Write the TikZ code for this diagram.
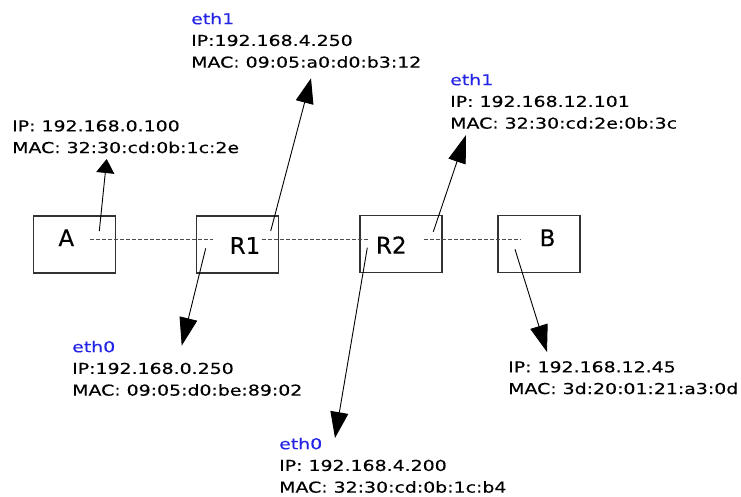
\documentclass[tikz,border=0pt]{standalone}
\usepackage{fontspec}
\setmainfont{DejaVu Sans}
\newfontfamily\addrfont[FakeStretch=1.26, FakeBold=0.35]{DejaVu Sans}
\newfontfamily\namefont[FakeBold=0.3]{DejaVu Sans}
\usetikzlibrary{arrows.meta}
\definecolor{ethblue}{RGB}{35,35,230}
\definecolor{boxgray}{RGB}{50,50,50}
\definecolor{dashgray}{RGB}{75,75,75}
\tikzset{host box/.style={
        draw=boxgray, line width=1.5pt, minimum width=82pt,
        minimum height=57pt, inner sep=0pt,
        outer sep=0pt, % corners of the frame sit on the coordinates
    },
    host name/.style={
        font=\namefont\fontsize{23}{23}\selectfont, inner sep=0pt
    },
    addr label/.style={
        anchor=north west, inner sep=0pt, align=left, text=black,
        font=\addrfont\fontsize{15}{21.7}\selectfont,
    },
    link line/.style={
        draw=dashgray, line width=1.4pt, dash pattern=on 4pt off 2pt
    },
    addr arrow/.style={
        draw=black, line width=0.9pt,
        -{Triangle[length=#1, width=18pt]},
    },
}

\begin{document}
\begin{tikzpicture}[x=1pt, y=-1pt]
        \useasboundingbox (0,0) rectangle (741,496);

    %% the four hosts
        \node [host box] (A) at (74.7,244.3) {};
        \node [host box] (R1) at (237.5,244.3) {};
        \node [host box] (R2) at (401,244.2) {};
        \node [host box] (B) at (538.8,244.2) {};
        \node [host name] (A-name) at (66.3,237.8) {A};
        \node [host name] (R1-name) at (245,245.5) {R1};
        \node [host name] (R2-name) at (391.3,245) {R2};
        \node [host name] (B-name) at (547.5,237.8) {B};

    %% the addresses
        \node [addr label] (A-addr) at (12,120) {IP: 192.168.0.100\\MAC: 32:30:cd:0b:1c:2e};
        \node [addr label] (R1-eth1) at (191,12.6) {\textcolor{ethblue}{eth1}\\IP:192.168.4.250\\MAC: 09:05:a0:d0:b3:12};
        \node [addr label] (R2-eth1) at (450,73.6) {\textcolor{ethblue}{eth1}\\IP: 192.168.12.101\\MAC: 32:30:cd:2e:0b:3c};
        \node [addr label] (R1-eth0) at (72,340.6) {\textcolor{ethblue}{eth0}\\IP:192.168.0.250\\MAC: 09:05:d0:be:89:02};
        \node [addr label] (R2-eth0) at (279,437.6) {\textcolor{ethblue}{eth0}\\IP: 192.168.4.200\\MAC: 32:30:cd:0b:1c:b4};
        \node [addr label] (B-addr) at (508,361) {IP: 192.168.12.45\\MAC: 3d:20:01:21:a3:0d};

    %% points where the links and the arrows start and end
        \coordinate (A-link) at (90,239.7);
        \coordinate (R1-linkin) at (212.7,239.7);
        \coordinate (R1-linkout) at (261.7,239.7);
        \coordinate (R2-linkin) at (368.3,239.7);
        \coordinate (R2-linkout) at (424.3,239.7);
        \coordinate (B-link) at (521,239.7);

        \coordinate (A-out) at (99.3,231);
        \coordinate (A-tip) at (106.7,159);
        \coordinate (R1-out1) at (270.7,231);
        \coordinate (R1-tip1) at (311,78.3);
        \coordinate (R1-out0) at (205.7,248.3);
        \coordinate (R1-tip0) at (181.7,345.7);
        \coordinate (R2-out1) at (433.3,231.7);
        \coordinate (R2-tip1) at (466,135);
        \coordinate (R2-out0) at (367.3,247.7);
        \coordinate (R2-tip0) at (335,438);
        \coordinate (B-out) at (515,249.3);
        \coordinate (B-tip) at (547,352);

    %% links
        \draw [link line] (A-link) -- (R1-linkin);
        \draw [link line] (R1-linkout) -- (R2-linkin);
        \draw [link line] (R2-linkout) -- (B-link);

    %% arrows to the addresses
        \draw [addr arrow=14pt] (A-out) -- (A-tip);
        \draw [addr arrow=25pt] (R1-out1) -- (R1-tip1);
        \draw [addr arrow=28pt] (R1-out0) -- (R1-tip0);
        \draw [addr arrow=28pt] (R2-out1) -- (R2-tip1);
        \draw [addr arrow=26pt] (R2-out0) -- (R2-tip0);
        \draw [addr arrow=27pt] (B-out) -- (B-tip);

    \end{tikzpicture}
\end{document}
